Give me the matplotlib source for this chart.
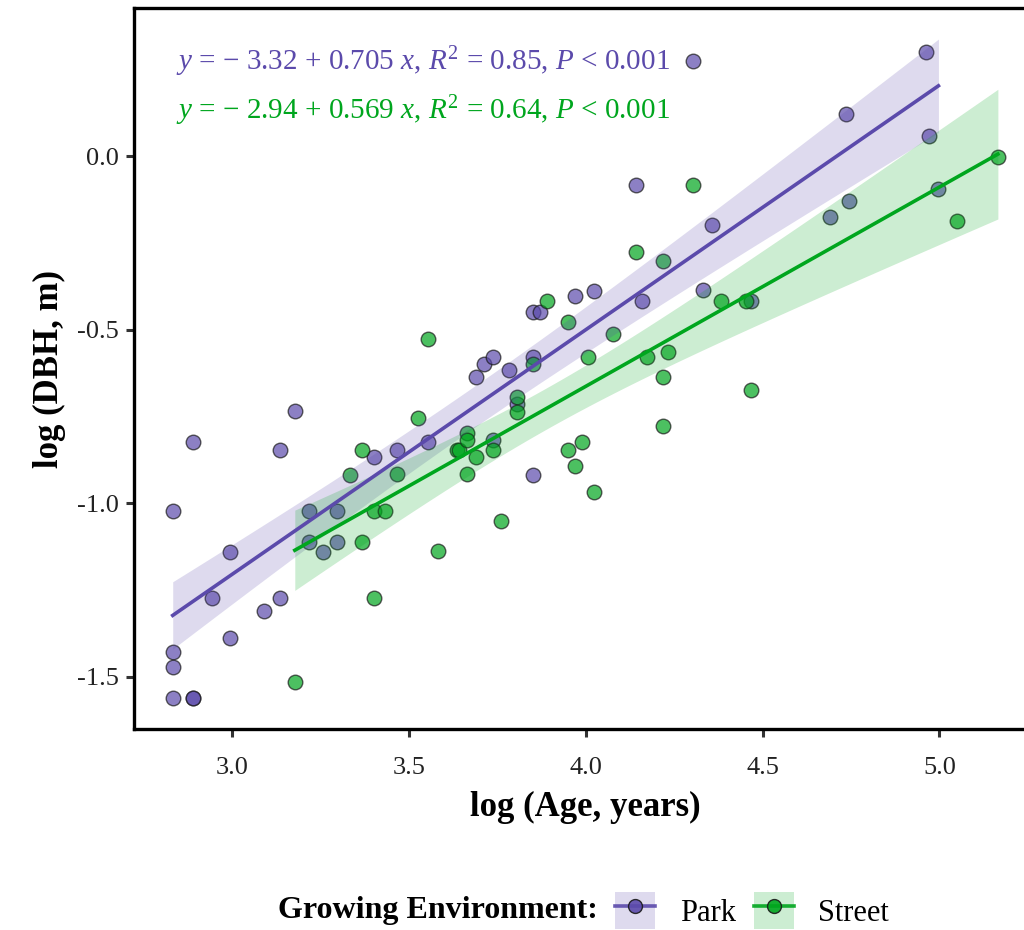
import numpy as np
import matplotlib
matplotlib.use("Agg")
import matplotlib.pyplot as plt
from matplotlib.lines import Line2D
from matplotlib.patches import Patch

plt.rcParams['font.family'] = ['Liberation Serif', 'DejaVu Serif']
plt.rcParams['mathtext.fontset'] = 'custom'
plt.rcParams['mathtext.rm'] = 'Liberation Serif'
plt.rcParams['mathtext.it'] = 'Liberation Serif:italic'

# log(Age, years) / log(DBH, m)
park_x = [2.833, 2.890, 2.833, 2.833, 2.833, 2.890, 2.890, 2.944, 2.996, 2.996,
          3.091, 3.135, 3.135, 3.178, 3.219, 3.296, 3.219, 3.258, 3.296, 3.401,
          3.466, 3.555, 3.689, 3.714, 3.738, 3.784, 3.850, 3.850, 3.871, 3.807,
          3.738, 3.850, 3.970, 4.025, 4.159, 4.143, 4.304, 4.357, 4.331, 4.466,
          4.691, 4.745, 4.736, 4.963, 4.970, 4.997]
park_y = [-1.022, -0.823, -1.427, -1.470, -1.561, -1.561, -1.561, -1.274, -1.141, -1.387,
          -1.310, -1.274, -0.845, -0.735, -1.022, -1.022, -1.111, -1.141, -1.111, -0.868,
          -0.845, -0.823, -0.635, -0.599, -0.580, -0.616, -0.580, -0.448, -0.448, -0.715,
          -0.818, -0.917, -0.402, -0.388, -0.417, -0.084, 0.274, -0.199, -0.386, -0.417,
          -0.175, -0.129, 0.121, 0.299, 0.058, -0.096]

street_x = [3.178, 3.333, 3.367, 3.367, 3.401, 3.434, 3.401, 3.466, 3.526, 3.555,
            3.584, 3.636, 3.642, 3.664, 3.664, 3.664, 3.689, 3.738, 3.761, 3.807,
            3.807, 3.850, 3.892, 3.951, 3.951, 3.970, 3.989, 4.007, 4.025, 4.078,
            4.143, 4.174, 4.220, 4.220, 4.220, 4.234, 4.304, 4.382, 4.454, 4.466,
            5.050, 5.165]
street_y = [-1.515, -0.917, -0.845, -1.111, -1.021, -1.021, -1.274, -0.916, -0.755, -0.528,
            -1.137, -0.845, -0.845, -0.797, -0.818, -0.916, -0.868, -0.847, -1.050, -0.693,
            -0.736, -0.599, -0.417, -0.477, -0.845, -0.893, -0.823, -0.580, -0.968, -0.511,
            -0.276, -0.580, -0.301, -0.635, -0.777, -0.563, -0.084, -0.417, -0.417, -0.674,
            -0.186, -0.002]

eq_park = r'$y$ = − 3.32 + 0.705 $x$, $R^2$ = 0.85, $P$ < 0.001'
eq_street = r'$y$ = − 2.94 + 0.569 $x$, $R^2$ = 0.64, $P$ < 0.001'

purple = '#5B4AAB'
green = '#00A61E'


def t975(df):
    z = 1.959964
    return z + (z**3 + z) / (4 * df) + (5 * z**5 + 16 * z**3 + 3 * z) / (96 * df**2)


def smooth(ax, x, y, color):
    x = np.asarray(x)
    y = np.asarray(y)
    n = len(x)
    b, a = np.polyfit(x, y, 1)
    xs = np.linspace(x.min(), x.max(), 80)
    ys = a + b * xs
    resid = y - (a + b * x)
    s = np.sqrt(np.sum(resid**2) / (n - 2))
    se = s * np.sqrt(1 / n + (xs - x.mean())**2 / np.sum((x - x.mean())**2))
    t = t975(n - 2)
    ax.fill_between(xs, ys - t * se, ys + t * se, color=color, alpha=0.2, lw=0, zorder=3)
    ax.plot(xs, ys, color=color, lw=2.6, zorder=4)


fig = plt.figure(figsize=(10.24, 9.30), dpi=100)
ax = fig.add_axes([0.1309, 0.2161, 0.8815, 0.7753])

for x, y, c in [(park_x, park_y, purple), (street_x, street_y, green)]:
    ax.scatter(x, y, s=110, facecolor=c, edgecolor='#1a1a1a', linewidth=1.0,
               alpha=0.7, zorder=2)
for x, y, c in [(park_x, park_y, purple), (street_x, street_y, green)]:
    smooth(ax, x, y, c)

ax.text(0.0466, 0.926, eq_park, transform=ax.transAxes, color=purple,
        fontsize=21, ha='left', va='center')
ax.text(0.0466, 0.858, eq_street, transform=ax.transAxes, color=green,
        fontsize=21, ha='left', va='center')

ax.set_xlim(2.7237, 5.2747)
ax.set_ylim(-1.650, 0.4265)
ax.set_xticks([3.0, 3.5, 4.0, 4.5, 5.0])
ax.set_yticks([0.0, -0.5, -1.0, -1.5])
ax.set_xticklabels(['3.0', '3.5', '4.0', '4.5', '5.0'])
ax.set_yticklabels(['0.0', '-0.5', '-1.0', '-1.5'])
ax.tick_params(labelsize=19, length=6, width=2.2, color='#333333', labelcolor='#222222')
ax.tick_params(axis='x', pad=14)
ax.tick_params(axis='y', pad=5)
for sp in ax.spines.values():
    sp.set_linewidth(2.4)
    sp.set_color('black')

ax.set_xlabel('log (Age, years)', fontsize=25, fontweight='bold', labelpad=9)
ax.set_ylabel('log (DBH, m)', fontsize=25, fontweight='bold', labelpad=8)

handles = [
    (Patch(facecolor=purple, alpha=0.2, lw=0),
     Line2D([], [], color=purple, lw=2.6, marker='o', markersize=10,
            markerfacecolor=purple, markeredgecolor='#1a1a1a', alpha=0.9)),
    (Patch(facecolor=green, alpha=0.2, lw=0),
     Line2D([], [], color=green, lw=2.6, marker='o', markersize=10,
            markerfacecolor=green, markeredgecolor='#1a1a1a', alpha=0.9)),
]
fig.text(0.584, 0.021, 'Growing Environment:', fontsize=23, fontweight='bold',
         ha='right', va='center')
fig.legend(handles, ['Park', 'Street'], loc='center left',
           bbox_to_anchor=(0.601, 0.021), ncol=2, frameon=False, fontsize=22,
           handlelength=1.3, handleheight=1.5, handletextpad=0.8,
           columnspacing=0.6, borderpad=0, borderaxespad=0)

fig.savefig('out.png', dpi=100)
